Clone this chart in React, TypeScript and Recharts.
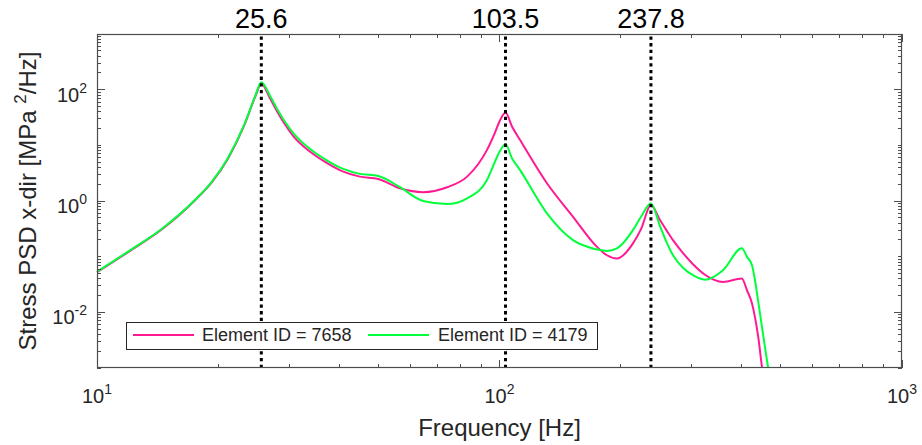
import React from 'react';
import { LineChart, Line, XAxis, YAxis, ReferenceLine } from 'recharts';

// frequency grid [Hz] and stress PSD [MPa^2/Hz] for the two elements
const freqHz = [
  10, 12.0, 14.5, 17.5, 19.3, 21.2, 23.3, 24.7, 25.6, 26.9, 28.0, 29.3, 30.7, 33.8, 37.3, 40.9, 45.0, 50,
  56.6, 64.6, 74.1, 83.1, 93.1, 97.4, 100, 103.5, 107.4, 112.4, 131.2, 152.3, 174.7, 184.9, 195.8, 214.6, 224.7,
  237.8, 250.5, 260.7, 269.8, 285.7, 302.5, 324.0, 359.2, 400, 412.0, 424.0, 431.3, 438.8, 449.0, 464.8, 483.6,
];
const psd7658 = [
  0.0526, 0.123, 0.310, 1.02, 2.18, 5.95, 24.4, 73.2, 128, 70.3, 41.0, 23.9, 14.8, 7.73, 4.78, 3.37, 2.74, 2.49,
  1.69, 1.44, 1.77, 2.74, 8.3, 16.8, 26.8, 39.0, 21.8, 12.6, 2.08, 0.521, 0.150, 0.106, 0.0928, 0.173, 0.313,
  0.847, 0.455, 0.288, 0.198, 0.116, 0.0733, 0.0474, 0.0352, 0.0405, 0.0249, 0.0144, 0.00813, 0.00385, 0.00102, 0.000171, 0.0000326,
];
const psd4179 = [
  0.0537, 0.126, 0.317, 1.04, 2.23, 6.13, 25.1, 75.7, 136, 78.0, 45.5, 26.5, 16.8, 8.65, 5.32, 3.77, 3.07, 2.82,
  1.77, 1.0, 0.883, 1.12, 2.39, 5.04, 7.64, 10.5, 5.88, 3.62, 0.600, 0.198, 0.135, 0.127, 0.141, 0.300, 0.521,
  0.902, 0.354, 0.175, 0.106, 0.0633, 0.0464, 0.0385, 0.0571, 0.141, 0.0992, 0.0703, 0.0377, 0.0165, 0.00537, 0.00103, 0.000211,
];

const seriesKeys = ['e7658', 'e4179'];
const seriesNames = ['Element ID = 7658', 'Element ID = 4179'];
const seriesColors = ['#ff1a94', '#00ff3c'];

// natural frequencies marked with dotted lines
const modeFreqs = [25.6, 103.5, 237.8];

const xDomain = [10, 1000];
const yDomain = [0.001, 1000];
const xLabelled = [10, 100, 1000];
const yLabelled = [0.01, 1, 100];

const data = freqHz.map((f, i) => ({ freq: f, e7658: psd7658[i], e4179: psd4179[i] }));

// 1..9 x 10^k tick values for a log axis
const decadeTicks = (lo: number, hi: number) => {
  const out: number[] = [];
  for (let k = lo; k < hi; k++) for (let d = 1; d < 10; d++) out.push(+(d * Math.pow(10, k)).toPrecision(3));
  out.push(Math.pow(10, hi));
  return out;
};
const xTicks = decadeTicks(1, 3);
const yTicks = decadeTicks(-3, 3);

// plot box
const W = 922;
const H = 445;
const MARGIN = { top: 34, right: 20, bottom: 0, left: 0 };
const X_AXIS_H = 77;
const Y_AXIS_W = 97;
const PLOT_W = W - MARGIN.right - Y_AXIS_W;
const PLOT_H = H - MARGIN.top - X_AXIS_H;

const AXIS = '#4d4d4d';
const TXT = '#262626';
const FONT = '"Liberation Sans", Arial, Helvetica, sans-serif';

const isIn = (v: number, list: number[]) => list.some((m) => Math.abs(v / m - 1) < 1e-6);
const expOf = (v: number) => Math.round(Math.log10(v));

// inward tick on the bottom axis plus its twin on the top edge
const XTick = (props: any) => {
  const { x, y, payload } = props;
  const major = isIn(payload.value, xLabelled);
  const len = major ? 8 : 4;
  const top = y - PLOT_H;
  return (
    <g>
      <path d={`M${x},${y}v${-len}M${x},${top}v${len}`} stroke={AXIS} strokeWidth={1} fill="none" shapeRendering="crispEdges" />
      {major && (
        <text x={x} y={y + 35} textAnchor="middle" fontSize={20} fill={TXT} fontFamily={FONT}>
          10<tspan dy={-9} fontSize={14}>{expOf(payload.value)}</tspan>
        </text>
      )}
    </g>
  );
};

// inward tick on the left axis plus its twin on the right edge
const YTick = (props: any) => {
  const { x, y, payload } = props;
  const major = isIn(payload.value, yLabelled);
  const len = major ? 8 : 4;
  const left = Number(x);
  const right = left + PLOT_W;
  return (
    <g>
      <path d={`M${left},${y}h${len}M${right},${y}h${-len}`} stroke={AXIS} strokeWidth={1} fill="none" shapeRendering="crispEdges" />
      {major && (
        <text x={left - 10} y={y + 12} textAnchor="end" fontSize={20} fill={TXT} fontFamily={FONT}>
          10<tspan dy={-9} fontSize={14}>{expOf(payload.value)}</tspan>
        </text>
      )}
    </g>
  );
};

// axis title plus the closed frame round the plot
const XLabel = ({ viewBox }: any) => (
  <g>
    <rect
      x={viewBox.x + 0.5} y={viewBox.y - PLOT_H + 0.5} width={viewBox.width - 1} height={PLOT_H - 1}
      fill="none" stroke={AXIS} strokeWidth={1.2}
    />
    <text x={viewBox.x + viewBox.width / 2} y={viewBox.y + 68} textAnchor="middle" fontSize={24} fill={TXT} fontFamily={FONT}>
      Frequency [Hz]
    </text>
  </g>
);

const YLabel = ({ viewBox }: any) => {
  const cx = viewBox.x + 36;
  const cy = viewBox.y + viewBox.height / 2;
  return (
    <text transform={`translate(${cx},${cy}) rotate(-90)`} textAnchor="middle" fontSize={24} fill={TXT} fontFamily={FONT}>
      Stress PSD x-dir [MPa <tspan dy={-10} fontSize={17}>2</tspan><tspan dy={10}>/Hz]</tspan>
    </text>
  );
};

const LegendBox = () => (
  <div
    style={{
      position: 'absolute', left: 126, top: 322, width: 472, height: 28, boxSizing: 'border-box',
      border: `1px solid ${TXT}`, background: '#fff', fontFamily: FONT, fontSize: 18, color: TXT, lineHeight: '24px',
    }}
  >
    {seriesNames.map((name, i) => (
      <React.Fragment key={name}>
        <div style={{ position: 'absolute', left: i === 0 ? 6 : 241, top: 11, width: 61, height: 2, background: seriesColors[i] }} />
        <span style={{ position: 'absolute', left: i === 0 ? 75 : 311, top: 0, whiteSpace: 'nowrap' }}>{name}</span>
      </React.Fragment>
    ))}
  </div>
);

export default function App() {
  return (
    <div style={{ position: 'absolute', left: 0, top: 0, width: W, height: H, background: '#fff' }}>
      <LineChart width={W} height={H} data={data} margin={MARGIN}>
        <XAxis
          dataKey="freq" type="number" scale="log" domain={xDomain} ticks={xTicks} interval={0} axisLine={false}
          height={X_AXIS_H} tickSize={0} tickMargin={0} tick={<XTick />} label={XLabel}
        />
        <YAxis
          type="number" scale="log" domain={yDomain} allowDataOverflow ticks={yTicks} interval={0} axisLine={false}
          width={Y_AXIS_W} tickSize={0} tickMargin={0} tick={<YTick />} label={YLabel}
        />
        {seriesKeys.map((k, i) => (
          <Line
            key={k} dataKey={k} name={seriesNames[i]} type="monotone" stroke={seriesColors[i]} strokeWidth={2}
            dot={false} activeDot={false} isAnimationActive={false}
          />
        ))}
        {modeFreqs.map((f) => (
          <ReferenceLine
            key={f} x={f} stroke="#000" strokeWidth={3} strokeDasharray="3.3 3.4"
            label={{ value: String(f), position: 'top', offset: 6, fontSize: 27, fill: '#000', fontFamily: FONT }}
          />
        ))}
      </LineChart>
      <LegendBox />
    </div>
  );
}
